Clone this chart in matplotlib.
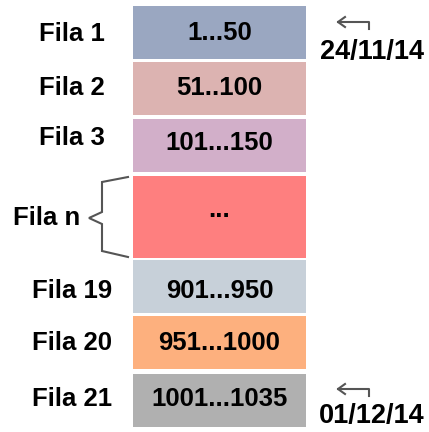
import matplotlib
matplotlib.use("Agg")
import matplotlib.pyplot as plt

plt.rcParams['font.family'] = ['Liberation Sans', 'DejaVu Sans']

row_labels = ["Fila 1", "Fila 2", "Fila 3", "Fila n", "Fila 19", "Fila 20", "Fila 21"]
ranges = ["1...50", "51..100", "101...150", "...", "901...950", "951...1000", "1001...1035"]
colors = ["#9aa7c1", "#dcb3b1", "#d2afc9", "#fe7f7f", "#c7d0d9", "#fdb07e", "#b0b0b0"]
dates = ["24/11/14", "01/12/14"]

# layout in pixel units (y grows downward)
row_top = [6, 62, 119, 176, 260, 316, 374]
row_h = [53, 53, 53, 82, 53, 53, 53]
box_left, box_w = 133, 173
label_y = [34, 88, 138, 218, 291, 343, 399]
text_y = [33, 88, 143, 210, 291, 343, 399]

fig = plt.figure(figsize=(4.29, 4.32), dpi=100)
ax = fig.add_axes([0, 0, 1, 1])
ax.set_xlim(0, 429)
ax.set_ylim(432, 0)
ax.axis('off')

centers = [t + h / 2 for t, h in zip(row_top, row_h)]
ax.barh(centers, box_w, height=row_h, left=box_left, color=colors, edgecolor='none')

fs = 18.5
for i, (lab, rng) in enumerate(zip(row_labels, ranges)):
    lx = 47 if lab == "Fila n" else 72
    ax.text(lx, label_y[i], lab, ha='center', va='center', fontsize=fs, fontweight='bold')
    ax.text(box_left + box_w / 2, text_y[i], rng, ha='center', va='center',
            fontsize=fs, fontweight='bold')

# brace for "Fila n"
bx = [128, 102, 102, 89, 102, 102, 128]
by = [177, 182, 212, 218, 224, 251, 257]
ax.plot(bx, by, color='#555555', lw=1.5, solid_joinstyle='miter')

# hook arrows and dates
for ay, dy, d in [(22, 52, dates[0]), (389, 416, dates[1])]:
    ax.plot([369, 369, 338], [ay + 7, ay, ay], color='#555555', lw=1.5)
    ax.plot([345, 338, 345], [ay - 5, ay, ay + 5], color='#555555', lw=1.5)
    ax.text(372, dy, d, ha='center', va='center', fontsize=19.5, fontweight='bold')

fig.savefig("out.png", dpi=100)
